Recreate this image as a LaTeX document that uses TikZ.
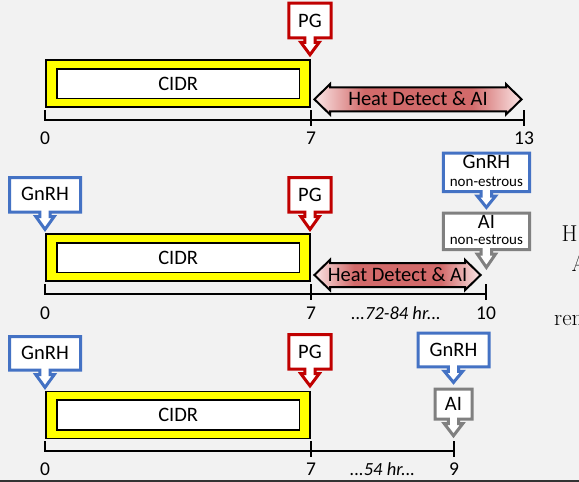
\documentclass[tikz,border=0pt]{standalone}
\usepackage{fontspec}
\newfontfamily\calib{Carlito}
\definecolor{bgc}{HTML}{F2F2F2}
\definecolor{bluec}{HTML}{4472C4}
\definecolor{redc}{HTML}{C00000}
\definecolor{grayc}{HTML}{808080}
\definecolor{yellowc}{HTML}{FFFF00}
\definecolor{hlight}{HTML}{FBE6E6}
\definecolor{hdark}{HTML}{D26A6A}
\pgfdeclarehorizontalshading{heat}{100bp}{color(0bp)=(hlight); color(25bp)=(hlight); color(37bp)=(hdark); color(63bp)=(hdark); color(75bp)=(hlight); color(100bp)=(hlight)}
\tikzset{
  lbl/.style={inner sep=0pt, font=\calib\fontsize{20.5}{22}\selectfont},
  smalltxt/.style={inner sep=0pt, font=\calib\fontsize{15}{16}\selectfont},
  ticklbl/.style={inner sep=0pt, font=\calib\fontsize{19.5}{21}\selectfont},
  hrs/.style={inner sep=0pt, font=\calib\itshape\fontsize{18.5}{20}\selectfont},
  serifbit/.style={inner sep=0pt, font=\fontsize{23}{25}\selectfont, anchor=base west},
  co/.style={line width=3pt, fill=white, line join=miter, miter limit=10},
  axisline/.style={line width=2pt},
  cidrout/.style={draw, line width=1.6pt, fill=yellowc, inner sep=0pt, minimum width=264.4pt, minimum height=47pt},
  cidrin/.style={draw, line width=1.6pt, fill=white, inner sep=0pt, minimum width=242.7pt, minimum height=29.7pt, font=\calib\fontsize{20.5}{22}\selectfont},
  heatsh/.style={draw, line width=2pt, shading=heat, line join=miter},
}
% #1 colour, #2 centre x, #3 half outer width, #4 top, #5 bottom, #6 tip
\newcommand\callout[6]{%
  \pgfmathsetmacro\cL{#2-#3+1.5}\pgfmathsetmacro\cR{#2+#3-1.5}%
  \pgfmathsetmacro\cT{#4+1.5}\pgfmathsetmacro\cB{#5-1.5}%
  \pgfmathsetmacro\cN{\cB+4.5}\pgfmathsetmacro\cP{#6-2.6}%
  \draw[co, draw=#1] (\cL,\cT) -- (\cR,\cT) -- (\cR,\cB) -- ({#2+5.2},\cB) -- ({#2+5.2},\cN)
    -- ({#2+9.2},\cN) -- (#2,\cP) -- ({#2-9.2},\cN) -- ({#2-5.2},\cN) -- ({#2-5.2},\cB)
    -- (\cL,\cB) -- cycle;}
% #1 left tip, #2 right tip, #3 centre y
\newcommand\heatarrow[3]{%
  \path[heatsh] ({#1+1.4},#3) -- ({#1+17},{#3-15.2}) -- ({#1+17},{#3-12}) -- ({#2-17},{#3-12})
    -- ({#2-17},{#3-15.2}) -- ({#2-1.4},#3) -- ({#2-17},{#3+15.2}) -- ({#2-17},{#3+12})
    -- ({#1+17},{#3+12}) -- ({#1+17},{#3+15.2}) -- cycle;}
% #1 y, #2 x0, #3 x1, #4 x2
\newcommand\timeline[4]{%
  \draw[axisline] (#2,#1) -- (#4,#1);
  \draw[axisline] (#2,{#1-10}) -- (#2,{#1+1});
  \draw[axisline] (#3,{#1-10}) -- (#3,{#1+6});
  \draw[axisline] (#4,{#1-10}) -- (#4,{#1+6});}
\begin{document}
\begin{tikzpicture}[x=1pt,y=-1pt]
\fill[bgc] (0,0) rectangle (579,482);
\useasboundingbox (0,0) rectangle (579,482);

% ---------------- panel 1
\node[cidrout] (cidrbox1) at (178,83.4) {};
\node[cidrin] (cidr1) at (178.2,83.6) {CIDR};
\callout{redc}{310}{22.7}{1.7}{39.3}{57.3}
\node[lbl] (pg1) at (310,21) {PG};
\heatarrow{313}{523}{99.3}
\node[lbl] (heat1) at (418,98.5) {Heat Detect \& AI};
\timeline{120}{45}{311}{524}
\node[ticklbl] (t10) at (45,138.5) {0};
\node[ticklbl] (t17) at (311,138.5) {7};
\node[ticklbl] (t113) at (524,138.5) {13};

% ---------------- panel 2
\node[cidrout] (cidrbox2) at (178,257.4) {};
\node[cidrin] (cidr2) at (178.2,257.6) {CIDR};
\callout{bluec}{45}{37}{176}{213.5}{232}
\node[lbl] (gnrh2) at (45,194) {GnRH};
\callout{redc}{310}{22.7}{176}{213.5}{232}
\node[lbl] (pg2) at (310,194.5) {PG};
\callout{bluec}{486.4}{44.6}{151.7}{193}{210}
\node[lbl] (gnrhne) at (486.4,161.7) {GnRH};
\node[smalltxt] (gnrhnesub) at (486.4,181.5) {non-estrous};
\callout{grayc}{486.4}{44.6}{211.7}{251}{270}
\node[lbl] (aine) at (486.4,221.7) {AI};
\node[smalltxt] (ainesub) at (486.4,240) {non-estrous};
\heatarrow{313}{482}{275}
\node[lbl] (heat2) at (397.5,274.5) {Heat Detect \& AI};
\timeline{294}{45}{311}{486}
\node[ticklbl] (t20) at (45,313.3) {0};
\node[ticklbl] (t27) at (311,313.3) {7};
\node[ticklbl] (t210) at (486,313.3) {10};
\node[hrs] (hr2) at (396,313.3) {...72-84 hr...};

% ---------------- panel 3
\node[cidrout] (cidrbox3) at (178,414.8) {};
\node[cidrin] (cidr3) at (178.2,415) {CIDR};
\callout{bluec}{45}{37}{335}{371.7}{390}
\node[lbl] (gnrh3) at (45,353) {GnRH};
\callout{redc}{310}{22.7}{333}{370.7}{388.5}
\node[lbl] (pg3) at (310,352) {PG};
\callout{bluec}{453.5}{37}{331.7}{368.3}{385}
\node[lbl] (gnrh3b) at (453.5,350) {GnRH};
\callout{grayc}{453.5}{20}{387.7}{420.7}{438.3}
\node[lbl] (ai3) at (453.5,404) {AI};
\timeline{451}{45}{311}{454}
\node[ticklbl] (t30) at (45,469.5) {0};
\node[ticklbl] (t37) at (311,469.5) {7};
\node[ticklbl] (t39) at (454,469.5) {9};
\node[hrs] (hr3) at (382.5,469.5) {...54 hr...};

% ---------------- cut-off text at the right edge and bottom rule
\node[serifbit] (sH) at (561.5,241.7) {H};
\node[serifbit] (sA) at (571.5,271) {A};
\node[serifbit] (sren) at (554,325.5) {ren};
\draw[line width=2.2pt, black!80] (0,481) -- (579,481);
\end{tikzpicture}
\end{document}
